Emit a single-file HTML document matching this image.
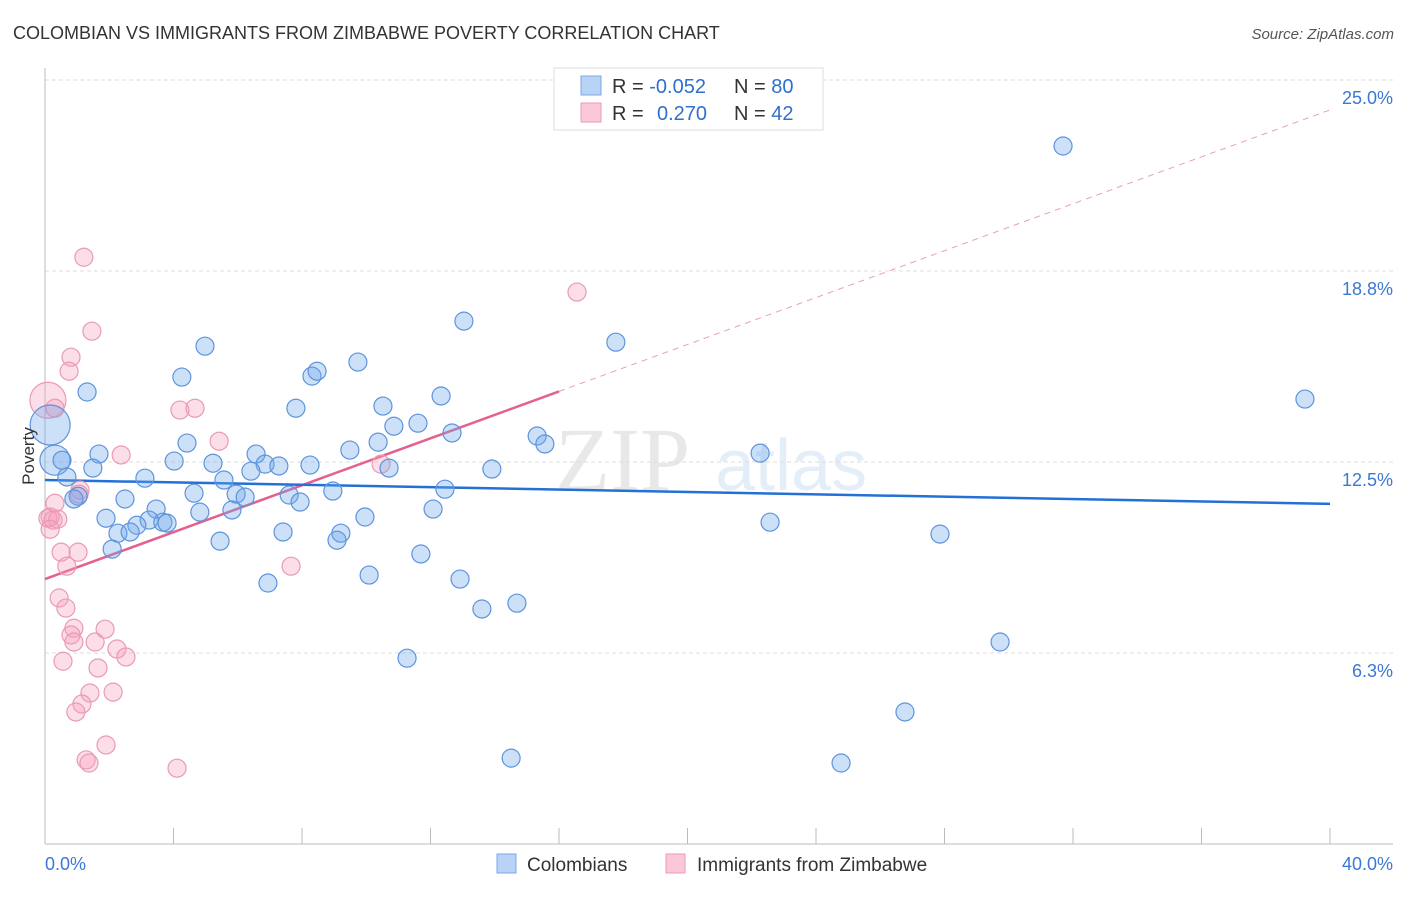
<!DOCTYPE html>
<html><head><meta charset="utf-8"><style>
html,body{margin:0;padding:0;background:#fff;}
body{width:1406px;height:892px;overflow:hidden;font-family:"Liberation Sans",sans-serif;}
</style></head><body>
<svg id="chart" width="1406" height="892" xmlns="http://www.w3.org/2000/svg" font-family="Liberation Sans, sans-serif">
<text x="13" y="39" font-size="18" fill="#333">COLOMBIAN VS IMMIGRANTS FROM ZIMBABWE POVERTY CORRELATION CHART</text>
<text x="1394" y="39" font-size="15" fill="#555" font-style="italic" text-anchor="end">Source: ZipAtlas.com</text>
<g opacity="0.13">
<text x="555" y="490" font-size="90" font-family="Liberation Serif, serif" fill="#555">ZIP</text>
<text x="715" y="490" font-size="72" fill="#3b7fd6">atlas</text>
</g>
<g id="grid"></g>
<g id="axes"></g>
<g id="trend"></g>
<g id="pts"></g>
<g>
<rect x="554" y="68" width="269" height="62" fill="#fff" stroke="#ddd"/>
<rect x="581" y="76" width="20" height="19" fill="#b8d3f5" stroke="#7aaae6"/>
<rect x="581" y="103" width="20" height="19" fill="#fac8d7" stroke="#ee9ab6"/>
<text x="612" y="93" font-size="20" fill="#333">R = <tspan fill="#2e6fd0">-0.052</tspan></text>
<text x="734" y="93" font-size="20" fill="#333">N = <tspan fill="#2e6fd0">80</tspan></text>
<text x="612" y="120" font-size="20" fill="#333">R = <tspan fill="#2e6fd0" x="657">0.270</tspan></text>
<text x="734" y="120" font-size="20" fill="#333">N = <tspan fill="#2e6fd0">42</tspan></text>
</g>
<g>
<rect x="497" y="854" width="19" height="19" fill="#b8d3f5" stroke="#7aaae6"/>
<text x="527" y="871" font-size="19" fill="#333">Colombians</text>
<rect x="666" y="854" width="19" height="19" fill="#fac8d7" stroke="#ee9ab6"/>
<text x="697" y="871" font-size="19" fill="#333">Immigrants from Zimbabwe</text>
</g>
<text transform="translate(34,456) rotate(-90)" font-size="17" fill="#333" text-anchor="middle">Poverty</text>
</svg>
<script>
const yTicks=[6.25,12.5,18.75,25];
const yTickLabels=["6.3%","12.5%","18.8%","25.0%"];
const xTickLabels=["0.0%","40.0%"];
const blueX=[31.69,4.98,13.04,17.77,39.22,1.31,4.26,8.31,8.47,9.74,12.33,7.81,10.52,10.86,11.61,12.67,15.32,15.56,9.49,10.37,4.42,1.68,6.57,4.02,5.23,6.85,7.28,8.25,6.41,1.49,3.11,10.71,13.91,22.26,0.31,0.53,0.68,5.57,1.03,0.90,2.49,4.64,5.95,6.23,7.60,7.94,8.96,12.45,1.90,3.46,4.82,5.82,3.24,3.67,3.80,2.86,2.27,2.65,7.41,9.21,9.96,9.09,5.45,2.09,12.08,22.57,27.86,6.94,10.09,11.70,12.92,13.60,14.69,11.27,29.73,26.77,14.51,24.78,0.16];
const blueY=[22.84,16.29,17.11,16.42,14.56,14.79,15.28,15.31,15.47,15.77,14.66,14.26,14.33,13.67,13.77,13.45,13.35,13.09,12.89,13.15,13.12,12.76,12.76,12.53,12.46,12.43,12.37,12.40,12.20,12.30,11.97,12.30,12.27,12.79,12.56,12.56,12.01,11.91,11.38,11.29,11.29,11.48,11.45,11.35,11.42,11.19,11.55,11.61,10.66,10.96,10.86,10.93,10.60,10.53,10.50,10.43,10.17,10.21,10.21,10.17,10.70,9.94,9.91,9.65,10.96,10.53,10.14,8.54,8.80,9.49,8.67,7.69,7.88,6.08,6.61,4.32,2.81,2.65,13.71];
const blueBig={34:15,78:20};
const pinkX=[1.21,1.46,0.81,0.75,16.56,0.09,0.31,4.20,4.67,5.42,2.37,10.46,1.09,1.06,0.31,0.16,0.09,0.25,0.40,0.16,0.50,1.03,0.68,7.66,0.44,0.65,0.90,1.87,0.81,0.90,1.56,2.24,2.52,0.56,1.65,1.40,2.12,1.15,0.96,1.90,1.28,1.37,4.11];
const pinkY=[19.20,16.78,15.93,15.47,18.06,14.52,14.26,14.20,14.26,13.18,12.73,12.43,11.58,11.45,11.15,10.70,10.66,10.60,10.63,10.30,9.55,9.55,9.09,9.09,8.05,7.72,7.06,7.03,6.84,6.61,6.61,6.38,6.12,5.98,5.76,4.94,4.97,4.58,4.32,3.24,2.75,2.65,2.48];
const pinkBig={5:18};
const blueTrend=[11.91,11.13];
const pinkTrend=[8.67,24.02];
const pinkSolidEnd=16.0;

const NS="http://www.w3.org/2000/svg";
const X0=45,X1=1330,Y0=844,Y25=80;
function sx(v){return X0+(v/40)*(X1-X0);}
function sy(v){return Y0-(v/25)*(Y0-Y25);}
function mk(tag,attrs,parent){const e=document.createElementNS(NS,tag);for(const k in attrs)e.setAttribute(k,attrs[k]);parent.appendChild(e);return e;}
const grid=document.getElementById('grid'),axes=document.getElementById('axes'),trend=document.getElementById('trend'),pts=document.getElementById('pts');
yTicks.forEach((t,i)=>{
  const l=mk('line',{x1:X0,x2:1393,y1:sy(t),y2:sy(t),stroke:'#ddd','stroke-dasharray':'4,3'},grid);
  
  
  const tx=mk('text',{x:1393,y:sy(t)+24,'font-size':18,fill:'#3b78d4','text-anchor':'end'},axes);
  tx.textContent=yTickLabels[i];
  
  
});
const ya=mk('line',{x1:X0,x2:X0,y1:68,y2:Y0,stroke:'#bbb'},axes);


const xa=mk('line',{x1:X0,x2:1393,y1:Y0,y2:Y0,stroke:'#bbb'},axes);


for(let k=0;k<=10;k++){
  const t=mk('line',{x1:sx(k*4),x2:sx(k*4),y1:Y0-16,y2:Y0,stroke:'#bbb'},axes);
  
  
}
const xl0=mk('text',{x:45,y:870,'font-size':18,fill:'#3b78d4'},axes);xl0.textContent=xTickLabels[0];


const xl1=mk('text',{x:1393,y:870,'font-size':18,fill:'#3b78d4','text-anchor':'end'},axes);xl1.textContent=xTickLabels[1];



function drawPts(xs,ys,big,fill,stroke,name){
  xs.forEach((x,i)=>{
    const c=mk('circle',{cx:sx(x),cy:sy(ys[i]),r:big[i]||9,fill:fill,stroke:stroke,'stroke-width':1.2},pts);
    
    
  });
}
drawPts(pinkX,pinkY,pinkBig,'rgba(245,160,190,0.35)','#e99ab5','zimbabwe-point');
drawPts(blueX,blueY,blueBig,'rgba(110,165,235,0.35)','#5d94dc','colombian-point');

const pv=x=>pinkTrend[0]+(pinkTrend[1]-pinkTrend[0])*x/40;
const pd=mk('line',{x1:sx(pinkSolidEnd),y1:sy(pv(pinkSolidEnd)),x2:sx(40),y2:sy(pinkTrend[1]),stroke:'#e8a0b8','stroke-dasharray':'6,5','stroke-width':1},trend);


const ps=mk('line',{x1:sx(0),y1:sy(pinkTrend[0]),x2:sx(pinkSolidEnd),y2:sy(pv(pinkSolidEnd)),stroke:'#e4618f','stroke-width':2.5},trend);


const bl=mk('line',{x1:sx(0),y1:sy(blueTrend[0]),x2:sx(40),y2:sy(blueTrend[1]),stroke:'#2370d6','stroke-width':2.5},trend);


</script>
</body></html>
